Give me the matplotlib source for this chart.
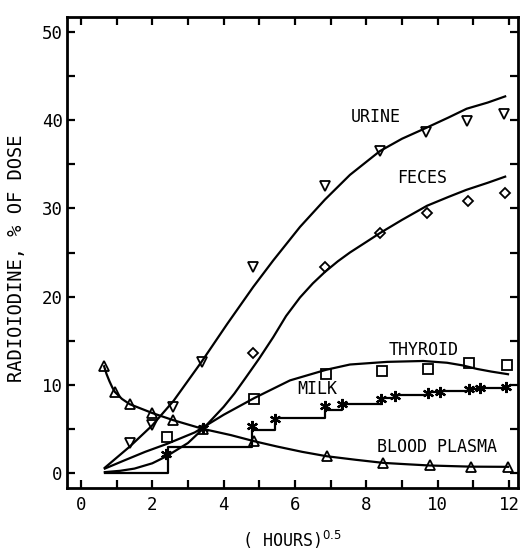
import matplotlib
matplotlib.use("Agg")
import matplotlib.pyplot as plt

plt.rcParams['font.family'] = ['DejaVu Sans Mono']

# measured points
urine_x = [1.37, 2.0, 2.58, 3.39, 4.83, 6.84, 8.38, 9.67, 10.82, 11.86]
urine_y = [3.4, 5.4, 7.5, 12.6, 23.3, 32.5, 36.5, 38.7, 39.9, 40.7]
feces_x = [4.83, 6.84, 8.38, 9.70, 10.85, 11.89]
feces_y = [13.6, 23.3, 27.2, 29.5, 30.8, 31.7]
thyroid_x = [2.41, 4.86, 6.87, 8.43, 9.73, 10.88, 11.94]
thyroid_y = [4.1, 8.4, 11.2, 11.6, 11.8, 12.5, 12.3]
plasma_x = [0.65, 0.95, 1.37, 1.99, 2.58, 3.42, 4.86, 6.89, 8.47, 9.78, 10.93, 11.97]
plasma_y = [12.1, 9.2, 7.8, 6.8, 6.0, 5.0, 3.6, 1.9, 1.1, 0.9, 0.7, 0.7]
milk_x = [2.38, 3.42, 4.79, 5.44, 6.84, 7.32, 8.41, 8.80, 9.73, 10.06, 10.88, 11.19, 11.92]
milk_y = [2.2, 5.1, 5.3, 6.1, 7.6, 7.8, 8.4, 8.7, 9.1, 9.2, 9.5, 9.6, 9.8]

# cumulative milk steps
step_x = [0.67, 2.44, 4.79, 5.44, 6.84, 7.32, 8.41, 8.80, 9.73, 10.06, 10.88, 11.19, 11.92]
step_y = [0.0, 3.0, 4.9, 6.2, 7.2, 7.8, 8.5, 8.8, 9.2, 9.3, 9.5, 9.6, 9.8]

# fitted curves
urine_cx = [0.67, 1.37, 2.0, 2.6, 3.38, 4.1, 4.83, 5.39, 6.14, 6.84, 7.54, 8.38, 9.0, 9.66, 10.3, 10.81, 11.4, 11.89]
urine_cy = [0.6, 3.0, 5.4, 8.2, 12.6, 16.9, 21.1, 24.1, 27.9, 31.0, 33.8, 36.5, 37.9, 39.1, 40.3, 41.3, 42.0, 42.7]
feces_cx = [0.67, 1.1, 1.5, 2.0, 2.4, 3.0, 3.42, 4.0, 4.3, 4.6, 5.0, 5.39, 5.75, 6.14, 6.5, 6.84, 7.2, 7.54, 8.0, 8.38, 9.0, 9.7, 10.3, 10.8, 11.4, 11.89]
feces_cy = [0.1, 0.25, 0.5, 1.1, 1.9, 3.4, 5.0, 7.5, 9.0, 10.7, 13.0, 15.4, 17.8, 19.9, 21.5, 22.8, 24.0, 25.0, 26.2, 27.2, 28.7, 30.3, 31.3, 32.1, 32.9, 33.6]
thyroid_cx = [0.67, 1.2, 1.8, 2.41, 3.19, 4.0, 4.86, 5.86, 6.87, 7.54, 8.58, 9.59, 10.26, 10.7, 11.1, 11.5, 11.97]
thyroid_cy = [0.5, 1.4, 2.4, 3.3, 4.6, 6.6, 8.5, 10.5, 11.7, 12.3, 12.6, 12.7, 12.5, 12.2, 11.8, 11.5, 11.2]
plasma_cx = [0.65, 0.72, 0.8, 0.88, 0.95, 1.05, 1.15, 1.37, 2.0, 2.58, 3.42, 4.2, 4.86, 5.5, 6.2, 6.89, 7.7, 8.47, 9.1, 9.78, 10.93, 11.97]
plasma_cy = [12.1, 11.2, 10.4, 9.7, 9.2, 8.8, 8.4, 7.8, 6.8, 6.0, 5.0, 4.3, 3.6, 3.0, 2.4, 1.9, 1.5, 1.15, 1.0, 0.85, 0.72, 0.7]

labels = ["URINE", "FECES", "THYROID", "MILK", "BLOOD PLASMA"]
label_x = [8.26, 9.57, 9.6, 6.63, 9.99]
label_y = [40.4, 33.4, 13.9, 9.5, 2.95]

fig = plt.figure(figsize=(5.22, 5.51), dpi=100)
ax = fig.add_axes([67/522, 63/551, 451/522, 471/551])

lw = 1.6
ax.plot(urine_cx, urine_cy, color='black', lw=lw)
ax.plot(feces_cx, feces_cy, color='black', lw=lw)
ax.plot(thyroid_cx, thyroid_cy, color='black', lw=lw)
ax.plot(plasma_cx, plasma_cy, color='black', lw=lw)
ax.step(step_x, step_y, where='post', color='black', lw=lw)

mk = dict(color='black', linestyle='none', markerfacecolor='none', markeredgewidth=1.3)
ax.plot(urine_x, urine_y, marker='v', markersize=7, **mk)
ax.plot(feces_x, feces_y, marker='D', markersize=5, **mk)
ax.plot(thyroid_x, thyroid_y, marker='s', markersize=7, **mk)
ax.plot(plasma_x, plasma_y, marker='^', markersize=7, **mk)
ax.plot(milk_x, milk_y, marker=(6, 2, 0), markersize=8, color='black', linestyle='none', markeredgewidth=1.6)

for t, x, y in zip(labels, label_x, label_y):
    ax.text(x, y, t, ha='center', va='center', fontsize=12)

ax.set_xlim(-0.39, 12.25)
ax.set_ylim(-1.7, 51.7)
ax.set_xticks(range(0, 13))
ax.set_xticklabels([str(v) if v % 2 == 0 else '' for v in range(0, 13)], fontsize=12.5)
ax.set_yticks(range(0, 51, 5))
ax.set_yticklabels([str(v) if v % 10 == 0 else '' for v in range(0, 51, 5)], fontsize=12.5)
ax.tick_params(direction='in', length=6, width=1.6, top=True, right=True, pad=3)
ax.tick_params(axis='x', pad=6)
for s in ax.spines.values():
    s.set_linewidth(2)

fig.text(17/522, 1 - 258/551, "RADIOIODINE, % OF DOSE", rotation=90,
         ha='center', va='center', fontsize=13.5)
fig.text(292/522, 1 - 540/551, r"( HOURS)$^{0.5}$", ha='center', va='center', fontsize=12)

fig.savefig("out.png", dpi=100)
